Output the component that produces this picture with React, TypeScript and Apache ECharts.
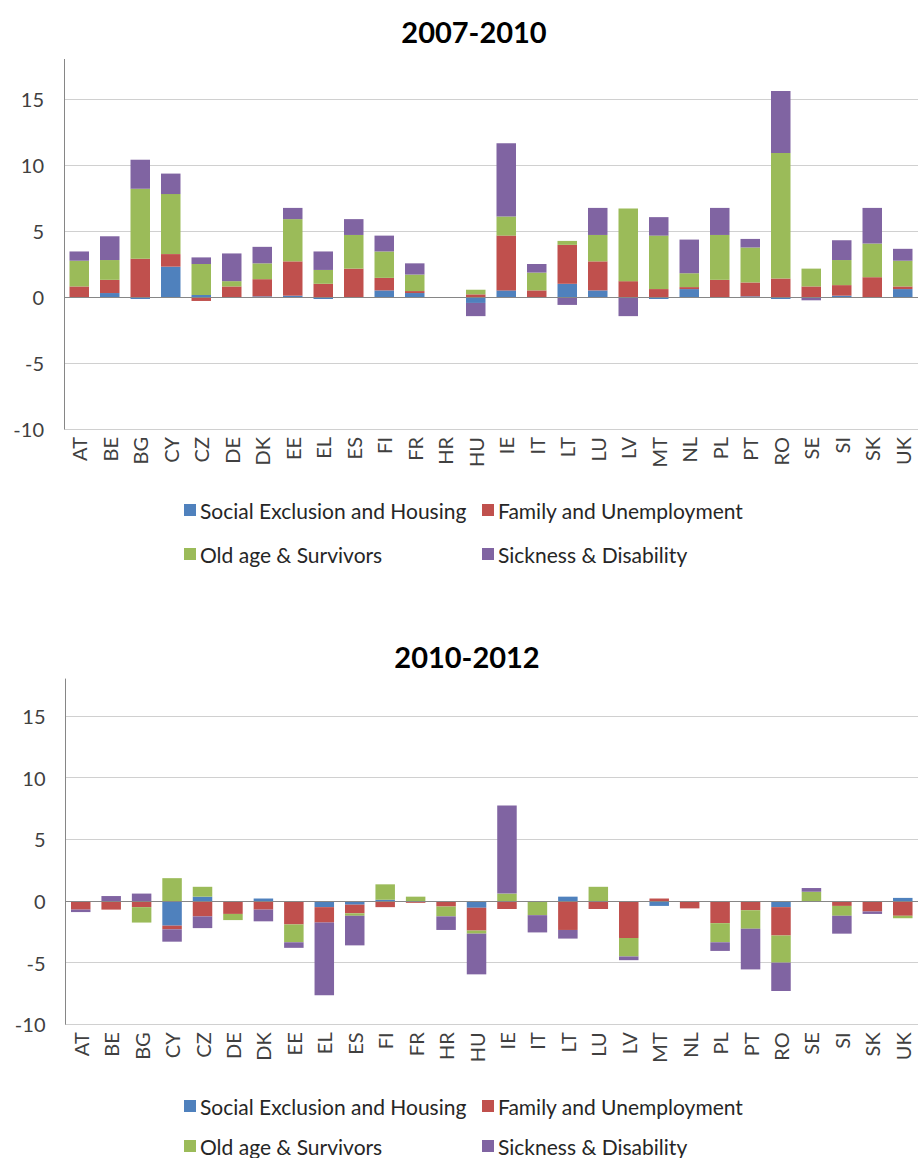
import React, { useEffect, useRef } from "react";
import * as echarts from "echarts";

const countries = ["AT","BE","BG","CY","CZ","DE","DK","EE","EL","ES","FI","FR","HR","HU","IE","IT","LT","LU","LV","MT","NL","PL","PT","RO","SE","SI","SK","UK"];
const seriesNames = ["Social Exclusion and Housing","Family and Unemployment","Old age & Survivors","Sickness & Disability"];
const colors = ["#4f81bd","#c0504d","#9bbb59","#8064a2"];
const yTicks = [-10, -5, 0, 5, 10, 15];

// 2007-2010
const social0710 = [0,0.3,-0.15,2.3,0.15,0,0.05,0.1,-0.15,0,0.5,0.3,0,-0.45,0.5,0,1.0,0.5,0,-0.15,0.6,0,0.05,-0.15,0,0.1,0,0.6];
const family0710 = [0.8,1.0,2.9,0.95,-0.3,0.8,1.3,2.6,1.0,2.15,0.95,0.15,0,0.2,4.15,0.5,2.95,2.2,1.2,0.6,0.15,1.3,1.05,1.4,0.8,0.8,1.5,0.2];
const oldage0710 = [1.95,1.5,5.3,4.55,2.35,0.4,1.2,3.2,1.05,2.55,2.0,1.25,0,0.35,1.45,1.35,0.3,2.0,5.5,4.05,1.05,3.4,2.65,9.5,1.35,1.9,2.55,1.95];
const sickness0710 = [0.7,1.8,2.2,1.55,0.5,2.1,1.25,0.85,1.4,1.2,1.2,0.85,0,-1.0,5.55,0.65,-0.6,2.05,-1.45,1.4,2.55,2.05,0.65,4.7,-0.25,1.5,2.7,0.9];

// 2010-2012
const social1012 = [0,0,0,-2.0,0.35,0,0.2,0,-0.5,-0.3,0.1,0,0,-0.55,0,0,0.35,0,0,-0.4,0,0,0,-0.5,0,0,0,0.25];
const family1012 = [-0.7,-0.7,-0.5,-0.3,-1.25,-1.05,-0.7,-1.9,-1.25,-0.7,-0.5,-0.15,-0.45,-1.85,-0.65,0,-2.35,-0.65,-3.0,0.2,-0.6,-1.8,-0.75,-2.3,0,-0.4,-0.85,-1.2];
const oldage1012 = [0,0,-1.25,1.85,0.8,-0.5,0,-1.45,0,-0.2,1.25,0.35,-0.8,-0.25,0.6,-1.15,0,1.15,-1.5,0,0,-1.55,-1.5,-2.2,0.75,-0.8,0,-0.2];
const sickness1012 = [-0.2,0.4,0.6,-1.0,-0.95,0,-0.95,-0.45,-5.9,-2.4,0,0,-1.1,-3.3,7.15,-1.4,-0.7,0,-0.3,0,0,-0.7,-3.3,-2.3,0.3,-1.45,-0.2,0];

const panels = [
  { title: "2007-2010", data: [social0710, family0710, oldage0710, sickness0710] },
  { title: "2010-2012", data: [social1012, family1012, oldage1012, sickness1012] },
];

const FONT = "Lato";

export default function App() {
  const ref = useRef<HTMLDivElement>(null);
  useEffect(() => {
    const chart = echarts.init(ref.current!, undefined, { renderer: "svg" });
    const grids = [
      { left: 64, top: 59.4, width: 859, height: 369.6 },
      { left: 65.5, top: 679, width: 856, height: 345.3 },
    ];
    const titlePos = [{ x: 474, y: 31 }, { x: 467, y: 656 }];
    const legendRows = [[510, 554], [1106, 1146]];
    const legendCols = [184, 482];

    const series: any[] = [];
    panels.forEach((p, gi) => {
      p.data.forEach((vals, si) => {
        const s: any = {
          type: "bar",
          name: seriesNames[si],
          xAxisIndex: gi,
          yAxisIndex: gi,
          stack: "total" + gi,
          barWidth: 19.5,
          itemStyle: { color: colors[si] },
          data: vals,
        };
        if (si === 0) {
          s.markLine = {
            silent: true,
            symbol: "none",
            label: { show: false },
            lineStyle: { color: "#868686", type: "solid", width: 1 },
            data: [{ yAxis: 0 }],
          };
        }
        series.push(s);
      });
    });

    const legends: any[] = [];
    legendRows.forEach((rows) => {
      seriesNames.forEach((name, i) => {
        legends.push({
          data: [name],
          left: legendCols[i % 2],
          top: rows[Math.floor(i / 2)] - 12,
          padding: 0,
          itemWidth: 12,
          itemHeight: 12,
          itemGap: 0,
          selectedMode: false,
          icon: "rect",
          textStyle: { fontFamily: FONT, fontSize: 21, color: "#262626", lineHeight: 24, padding: [0, 0, 0, -1] },
        });
      });
    });

    chart.setOption({
      animation: false,
      backgroundColor: "#ffffff",
      grid: grids.map((g) => ({ ...g, containLabel: false })),
      xAxis: grids.map((_, gi) => ({
        type: "category",
        gridIndex: gi,
        data: countries,
        position: "bottom",
        axisLine: { show: false, onZero: false },
        axisTick: { show: false },
        axisLabel: { rotate: 90, margin: 8, fontFamily: FONT, fontSize: 20, color: "#404040", interval: 0 },
      })),
      yAxis: grids.map((_, gi) => ({
        type: "value",
        gridIndex: gi,
        min: yTicks[0],
        max: 18,
        interval: 5,
        axisLine: { show: true, lineStyle: { color: "#868686" } },
        axisTick: { show: false },
        axisLabel: {
          showMaxLabel: false,
          margin: 20,
          fontFamily: FONT,
          fontSize: 20,
          color: "#404040",
          formatter: (v: number) => (yTicks.includes(v) ? String(v) : ""),
        },
        splitLine: { show: true, showMaxLine: false, lineStyle: { color: "#d0d0d0", width: 1 } },
      })),
      legend: legends,
      graphic: panels.map((p, i) => ({
        type: "text",
        x: titlePos[i].x,
        y: titlePos[i].y,
        style: {
          text: p.title,
          align: "center",
          verticalAlign: "middle",
          font: `bold 29px ${FONT}`,
          fill: "#000000",
        },
      })),
      series,
    });
    return () => chart.dispose();
  }, []);
  return (
    <div
      ref={ref}
      style={{ position: "absolute", left: 0, top: 0, width: 918, height: 1158 }}
    />
  );
}
